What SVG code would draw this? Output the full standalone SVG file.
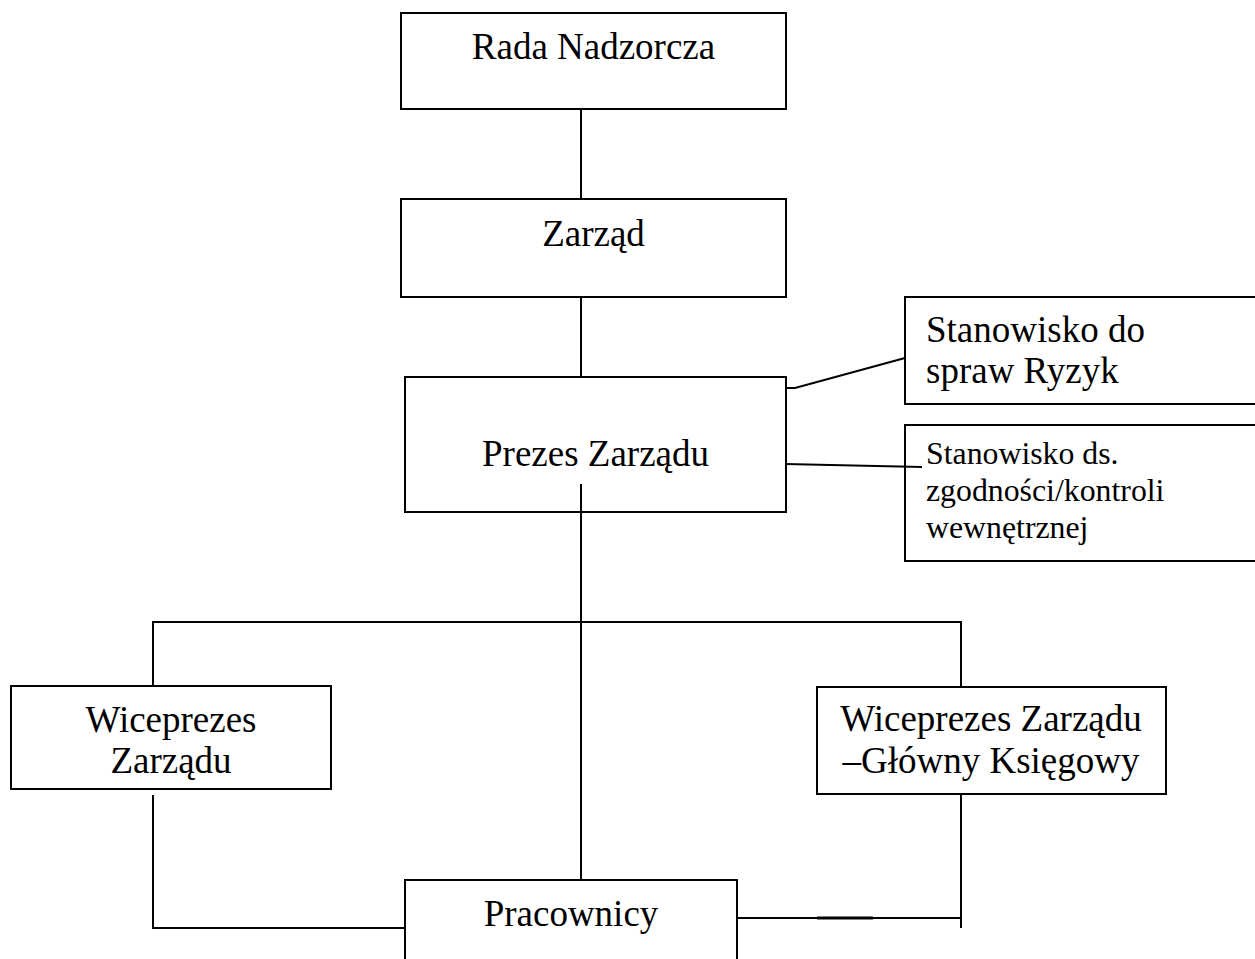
<svg xmlns="http://www.w3.org/2000/svg" width="1255" height="959" viewBox="0 0 1255 959">
<style>
.box{fill:#fff;stroke:#000;stroke-width:2}
.ln{fill:none;stroke:#000;stroke-width:2}
text{font-family:"Liberation Serif","Times New Roman",serif;fill:#000}
.t{font-size:37px;text-anchor:middle}
.tl{font-size:37px}
.ts{font-size:31.8px}
</style>
<rect width="1255" height="959" fill="#fff"/>
<g id="connectors">
<line class="ln" x1="581" y1="108" x2="581" y2="199"/>
<line class="ln" x1="581" y1="297" x2="581" y2="377"/>
<line class="ln" x1="581" y1="484" x2="581" y2="880"/>
<polyline class="ln" points="153,686 153,622 961,622 961,686"/>
<polyline class="ln" points="153,795 153,928 405,928"/>
<polyline class="ln" points="737,918 961,918"/>
<line class="ln" x1="961" y1="794" x2="961" y2="928"/>
<line x1="817" y1="918" x2="873" y2="918" stroke="#000" stroke-width="3"/>
<polyline class="ln" points="785,388 795,388 905,358"/>
<line class="ln" x1="785" y1="464" x2="922" y2="467"/>
</g>
<g id="rada">
<rect class="box" x="401" y="13" width="385" height="96"/>
<text class="t" x="593.5" y="59">Rada Nadzorcza</text>
</g>
<g id="zarzad">
<rect class="box" x="401" y="199" width="385" height="98"/>
<text class="t" x="593.5" y="246">Zarząd</text>
</g>
<g id="prezes">
<rect class="box" x="405" y="377" width="381" height="135" fill="none" style="fill:none"/>
<text class="t" x="595.5" y="466">Prezes Zarządu</text>
</g>
<g id="ryzyk">
<rect class="box" x="905" y="297" width="360" height="107"/>
<text class="tl" x="926" y="342">Stanowisko do</text>
<text class="tl" x="926" y="383">spraw Ryzyk</text>
</g>
<g id="zgodnosc">
<rect class="box" x="905" y="425" width="360" height="136" style="fill:none"/>
<text class="ts" x="926" y="464">Stanowisko ds.</text>
<text class="ts" x="926" y="501">zgodności/kontroli</text>
<text class="ts" x="926" y="538">wewnętrznej</text>
</g>
<g id="wiceprezes">
<rect class="box" x="11" y="686" width="320" height="103"/>
<text class="t" x="171" y="732">Wiceprezes</text>
<text class="t" x="171" y="773">Zarządu</text>
</g>
<g id="wiceprezes-ksiegowy">
<rect class="box" x="817" y="687" width="349" height="107"/>
<text class="t" x="991" y="731">Wiceprezes Zarządu</text>
<text class="t" x="991" y="773">–Główny Księgowy</text>
</g>
<g id="pracownicy">
<rect class="box" x="405" y="880" width="332" height="100" style="fill:none"/>
<text class="t" x="571" y="926">Pracownicy</text>
</g>
</svg>
